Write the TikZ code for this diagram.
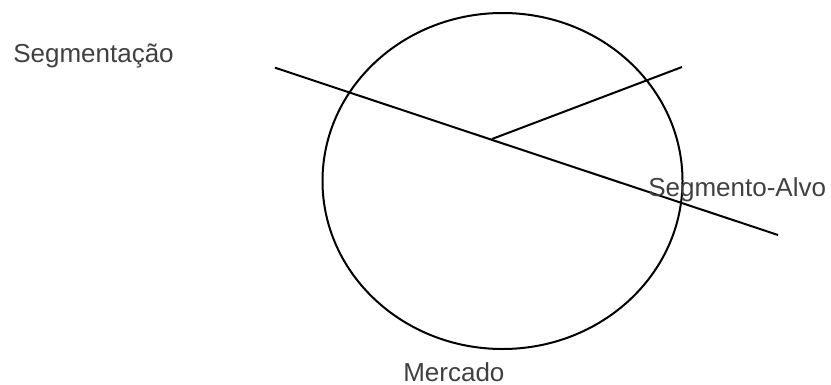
\documentclass[tikz,border=0pt]{standalone}
\usepackage{fontspec}
\setmainfont{Liberation Sans}
\usetikzlibrary{shapes.geometric}
\definecolor{txtgray}{HTML}{404040}
\begin{document}
\begin{tikzpicture}[x=0.75pt,y=-0.75pt,
  lbl/.style={inner sep=0pt,anchor=base west,text=txtgray,font=\fontsize{19.5pt}{23pt}\selectfont},
  ln/.style={draw=black,line width=1.5pt}]
\useasboundingbox (0,0) rectangle (831,385);
\node[ellipse,ln,minimum width=270pt,minimum height=252pt,inner sep=0pt] (market) at (502.5,181) {};
\coordinate (segA) at (275,67.7);
\coordinate (segB) at (778,235);
\coordinate (tgtA) at (492,139);
\coordinate (tgtB) at (682,67);
\draw[ln] (segA) -- (segB);
\draw[ln] (tgtA) -- (tgtB);
\node[lbl] (seg) at (13,63) {Segmentação};
\node[lbl] (alvo) at (648,196) {Segmento-Alvo};
\node[lbl] (merc) at (403,381) {Mercado};
\end{tikzpicture}
\end{document}
